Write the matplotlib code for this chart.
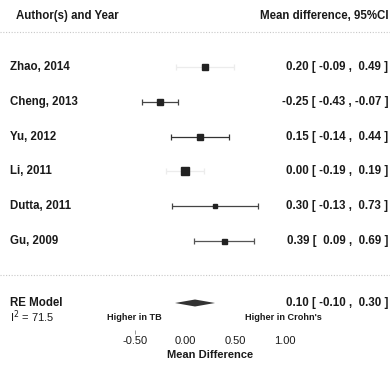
import matplotlib
matplotlib.use("Agg")
import matplotlib.pyplot as plt
import numpy as np

plt.rcParams['font.family'] = ['Liberation Sans', 'DejaVu Sans']

# study level results
studies = ["Zhao, 2014", "Cheng, 2013", "Yu, 2012", "Li, 2011", "Dutta, 2011", "Gu, 2009"]
est = [0.20, -0.25, 0.15, 0.00, 0.30, 0.39]
lo = [-0.09, -0.43, -0.14, -0.19, -0.13, 0.09]
hi = [0.49, -0.07, 0.44, 0.19, 0.73, 0.69]
box_size = [4.0, 5.0, 3.8, 5.2, 2.2, 3.6]
line_col = ["#ececec", "#444444", "#333333", "#ececec", "#444444", "#555555"]

# pooled random effects estimate
re_est, re_lo, re_hi = 0.10, -0.10, 0.30
i2 = 71.5

xticks = [-0.50, 0.00, 0.50, 1.00]

W, H = 390, 377
X0 = 185  # pixel column of zero difference
fig = plt.figure(figsize=(W / 100, H / 100), dpi=100)
ax = fig.add_axes([0, 0, 1, 1])
# x in mean-difference units (100 px per unit), y in pixels from top
ax.set_xlim(-X0 / 100, (W - X0) / 100)
ax.set_ylim(H, 0)
ax.axis("off")


def px(x):
    return (x - X0) / 100


txt = dict(fontsize=8.3, color="#1a1a1a", fontweight="bold", va="center")
xl = px(10)
xr = px(388)

ax.text(px(16), 16, "Author(s) and Year", ha="left", **txt)
ax.text(xr, 16, "Mean difference, 95%CI", ha="right", **txt)
ax.plot([px(0), px(W)], [32, 32], ls=(0, (1, 1.5)), color="#c8c8c8", lw=0.8)
ax.plot([px(0), px(W)], [275, 275], ls=(0, (1, 1.5)), color="#c8c8c8", lw=0.8)

row_y = 67 + 34.8 * np.arange(len(studies))
for i, y in enumerate(row_y):
    ax.errorbar(est[i], y, xerr=[[est[i] - lo[i]], [hi[i] - est[i]]], fmt="none",
                ecolor=line_col[i], elinewidth=0.9, capsize=2.5, capthick=0.9)
    ax.plot(est[i], y, marker="s", ms=box_size[i], color="#222222", mec="#222222")
    ax.text(xl, y, studies[i], ha="left", **txt)
    ax.text(xr, y, f"{est[i]:.2f} [ {lo[i]:5.2f} , {hi[i]:5.2f} ]", ha="right", **txt)

# summary diamond
y_re = 303
ax.fill([re_lo, re_est, re_hi, re_est], [y_re, y_re - 3.5, y_re, y_re + 3.5],
        color="#333333", lw=0)
ax.text(xl, y_re, "RE Model", ha="left", **txt)
ax.text(xr, y_re, f"{re_est:.2f} [ {re_lo:5.2f} , {re_hi:5.2f} ]", ha="right", **txt)
ax.text(xl, 317, r"I$^2$ = " + f"{i2}", ha="left", fontsize=8, color="#1a1a1a", va="center")
ax.text(px(134), 317, "Higher in TB", ha="center", fontsize=6.6,
        fontweight="bold", color="#1a1a1a", va="center")
ax.text(px(283), 317, "Higher in Crohn's", ha="center", fontsize=6.6,
        fontweight="bold", color="#1a1a1a", va="center")

# x axis: same scale as the rows, drawn without its spine
ax2 = fig.add_axes([0, 1 - 330 / H, 1, 0.001])
ax2.set_xlim(ax.get_xlim())
ax2.set_xticks(xticks)
ax2.set_xticklabels([f"{t:.2f}" for t in xticks], fontsize=8, color="#1a1a1a")
ax2.set_yticks([])
for s in ax2.spines.values():
    s.set_visible(False)
ax2.tick_params(axis="x", length=3, width=0.6, color="#888888", pad=1)
for t in ax2.xaxis.get_major_ticks()[1:]:
    t.tick1line.set_visible(False)
ax2.patch.set_alpha(0)
ax.text(np.mean([xticks[0], xticks[-1]]), 355, "Mean Difference", ha="center",
        **{**txt, "fontsize": 8})

fig.savefig("out.png", dpi=100)
